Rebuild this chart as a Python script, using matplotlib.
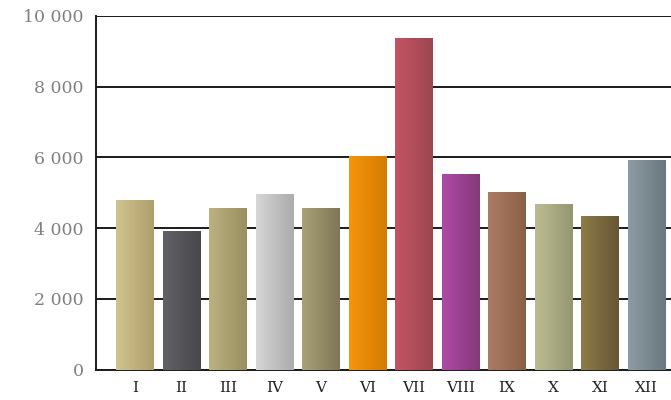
import matplotlib
matplotlib.use("Agg")
import matplotlib.pyplot as plt
import numpy as np
from matplotlib.colors import LinearSegmentedColormap
from matplotlib.ticker import FuncFormatter

# monthly values
months = ["I", "II", "III", "IV", "V", "VI", "VII", "VIII", "IX", "X", "XI", "XII"]
values = [4810, 3930, 4560, 4980, 4560, 6030, 9390, 5520, 5030, 4670, 4350, 5930]

# light edge -> dark edge of each bar's gradient
light_cols = ["#d2c48e", "#626266", "#bcb182", "#d6d6d6", "#a8a278", "#f5950c",
              "#c45462", "#ae4aa6", "#ad7c64", "#bcbc94", "#8e7c4a", "#8c9ca2"]
dark_cols = ["#ad9e6c", "#48484c", "#998e5e", "#acacac", "#7e7656", "#d47c00",
             "#9c4650", "#86387c", "#886046", "#959570", "#665634", "#68787e"]

fig = plt.figure(figsize=(6.71, 4.0), dpi=100)
ax = fig.add_axes([0.143, 0.076, 0.857, 0.884])

x = np.arange(len(months))
bars = ax.bar(x, values, width=0.8, facecolor="none", edgecolor="none", zorder=3)

grad = np.linspace(0, 1, 64).reshape(1, -1)
for b, c1, c2 in zip(bars, light_cols, dark_cols):
    cmap = LinearSegmentedColormap.from_list("g", [c1, c2])
    x0 = b.get_x()
    w = b.get_width()
    h = b.get_height()
    im = ax.imshow(grad, cmap=cmap, aspect="auto", extent=(x0, x0 + w, 0, h),
                   zorder=3, interpolation="bilinear")
    im.set_clip_path(b)

ax.set_xlim(-0.84, 11.53)
ax.set_ylim(0, 10000)
ax.set_yticks(np.arange(0, 10001, 2000))
ax.yaxis.set_major_formatter(FuncFormatter(lambda v, p: f"{int(v):,}".replace(",", " ")))
ax.set_xticks(x)
ax.set_xticklabels(months)

ax.grid(axis="y", color="#1a1a1a", linewidth=1.4, zorder=1)
ax.set_axisbelow(True)

for s in ["top", "right"]:
    ax.spines[s].set_visible(False)
ax.spines["left"].set_linewidth(1.4)
ax.spines["bottom"].set_linewidth(1.4)
ax.spines["left"].set_color("#1a1a1a")
ax.spines["bottom"].set_color("#1a1a1a")

ax.tick_params(axis="y", length=0, pad=9, labelsize=12.5, labelcolor="#808080")
ax.tick_params(axis="x", length=0, pad=8, labelsize=11, labelcolor="#222222")
for lab in ax.get_yticklabels() + ax.get_xticklabels():
    lab.set_family("DejaVu Serif")

fig.savefig("out.png", dpi=100)
